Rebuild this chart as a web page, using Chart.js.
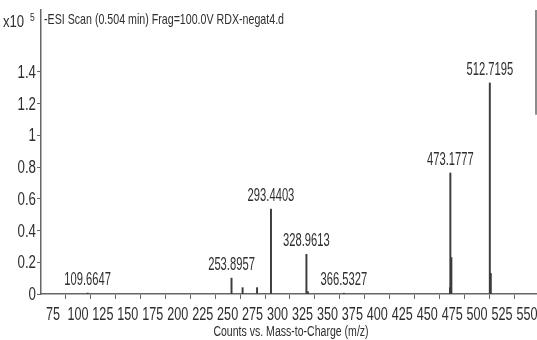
<!DOCTYPE html>
<html>
<head>
<meta charset="utf-8">
<script src="https://cdn.jsdelivr.net/npm/chart.js@4/dist/chart.umd.min.js"></script>
<style>
  html, body { margin: 0; padding: 0; background: #fff; }
  #wrap { width: 537px; height: 340px; }
</style>
</head>
<body>
<div id="wrap"><canvas id="spec" width="537" height="340"></canvas></div>
<script>
// Peak list: m/z and abundance (x10^5 counts)
const mzValues = [109.6647, 253.8957, 265.0, 279.5, 293.4403, 328.9613, 330.4, 366.5327, 472.8, 473.1777, 474.2, 512.7195, 513.7];
const counts   = [0.006, 0.10, 0.04, 0.04, 0.535, 0.25, 0.015, 0.005, 0.04, 0.763, 0.23, 1.33, 0.13];
// Peaks that carry an m/z annotation
const labeledPeaks = [109.6647, 253.8957, 293.4403, 328.9613, 366.5327, 473.1777, 512.7195];
// Axis tick values
const xTickValues = [75, 100, 125, 150, 175, 200, 225, 250, 275, 300, 325, 350, 375, 400, 425, 450, 475, 500, 525, 550];
const yTickValues = [0, 0.2, 0.4, 0.6, 0.8, 1, 1.2, 1.4];

const titleText = '-ESI Scan (0.504 min) Frag=100.0V RDX-negat4.d';
const xAxisTitle = 'Counts vs. Mass-to-Charge (m/z)';

const FONT = '"Liberation Sans", Arial, sans-serif';
const inkColor = '#2e2e2e';
const axisColor = '#666';

// narrow, tall lettering: draw text squeezed horizontally
function squeezed(ctx, text, x, y, size, sx, align, baseline) {
  ctx.save();
  ctx.translate(x, y);
  ctx.scale(sx, 1);
  ctx.font = size + 'px ' + FONT;
  ctx.fillStyle = inkColor;
  ctx.textAlign = align;
  ctx.textBaseline = baseline;
  ctx.fillText(text, 0, 0);
  ctx.restore();
}

const peakLabels = {
  id: 'peakLabels',
  afterDatasetsDraw(chart) {
    const { ctx, scales: { x, y } } = chart;
    labeledPeaks.forEach(m => {
      const i = mzValues.indexOf(m);
      const px = x.getPixelForValue(m);
      const py = y.getPixelForValue(counts[i]);
      squeezed(ctx, m.toFixed(4), px, py - 4, 17.5, 0.64, 'center', 'bottom');
    });
  }
};

const axisText = {
  id: 'axisText',
  afterDraw(chart) {
    const { ctx, chartArea, scales: { x, y } } = chart;
    x.ticks.forEach(t => {
      squeezed(ctx, String(t.value), x.getPixelForValue(t.value), chartArea.bottom + 21, 18, 0.7, 'center', 'middle');
    });
    y.ticks.forEach(t => {
      const lbl = String(Math.round(t.value * 10) / 10);
      squeezed(ctx, lbl, chartArea.left - 5, y.getPixelForValue(t.value) + 1, 18, 0.74, 'right', 'middle');
    });
    squeezed(ctx, xAxisTitle, (chartArea.left + chartArea.right) / 2 + 2, chartArea.bottom + 38, 15.5, 0.68, 'center', 'middle');
    squeezed(ctx, titleText, chartArea.left + 3, chartArea.top + 10, 15, 0.71, 'left', 'middle');
    // exponent marker for the y axis
    squeezed(ctx, 'x10', 3, chartArea.top + 13, 16, 0.82, 'left', 'middle');
    squeezed(ctx, '5', 30, chartArea.top + 8, 10, 0.85, 'left', 'middle');
    // frame edge on the right
    ctx.save();
    ctx.strokeStyle = axisColor;
    ctx.lineWidth = 1.5;
    ctx.beginPath();
    ctx.moveTo(chartArea.right - 1, chartArea.top);
    ctx.lineTo(chartArea.right - 1, y.getPixelForValue(1.13));
    ctx.stroke();
    ctx.restore();
  }
};

new Chart(document.getElementById('spec'), {
  type: 'bar',
  data: {
    datasets: [{
      data: mzValues.map((m, i) => ({ x: m, y: counts[i] })),
      backgroundColor: '#3c3c3c',
      borderWidth: 0,
      barThickness: 1.3
    }]
  },
  options: {
    responsive: false,
    animation: false,
    layout: { padding: { top: 10, right: 0, left: 0, bottom: 0 } },
    plugins: {
      legend: { display: false },
      tooltip: { enabled: false }
    },
    scales: {
      x: {
        type: 'linear',
        offset: false,
        min: 63,
        max: 560,
        afterBuildTicks: s => { s.ticks = xTickValues.map(v => ({ value: v })); },
        afterFit: s => { s.height = 46; },
        grid: { drawOnChartArea: false, drawTicks: true, tickLength: 5, color: axisColor },
        border: { color: axisColor, width: 1.5 },
        ticks: { autoSkip: false, maxRotation: 0, color: 'rgba(0,0,0,0)', font: { size: 8 } }
      },
      y: {
        min: 0,
        max: 1.79,
        afterBuildTicks: s => { s.ticks = yTickValues.map(v => ({ value: v })); },
        afterFit: s => { s.width = 41; },
        grid: { drawOnChartArea: false, drawTicks: true, tickLength: 4, color: axisColor },
        border: { color: axisColor, width: 1.5 },
        ticks: { color: 'rgba(0,0,0,0)', font: { size: 8 } }
      }
    }
  },
  plugins: [peakLabels, axisText]
});
</script>
</body>
</html>
